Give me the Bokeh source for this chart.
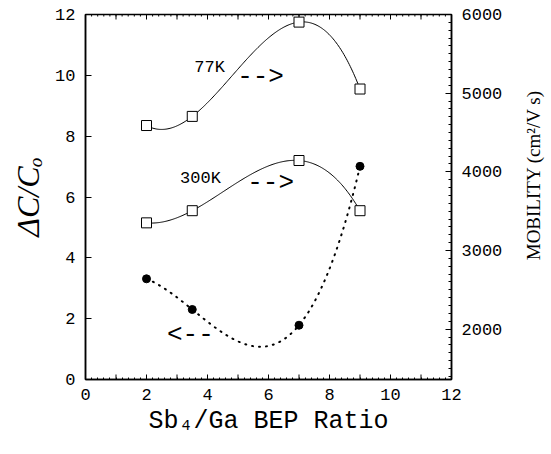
import numpy as np
from bokeh.plotting import figure
from bokeh.layouts import row
from bokeh.models import LinearAxis, Range1d, FixedTicker, Label
from bokeh.embed import file_html
from bokeh.resources import INLINE

# ---- data ----
ratio = [2.0, 3.5, 7.0, 9.0]
dc_77k = [8.35, 8.65, 11.75, 9.55]
dc_300k = [5.15, 5.55, 7.2, 5.55]
mobility = [2640, 2250, 2050, 4070]

x_tick_labels = ["0", "2", "4", "6", "8", "10", "12"]
y_tick_labels = ["0", "2", "4", "6", "8", "10", "12"]
mob_tick_labels = ["2000", "3000", "4000", "5000", "6000"]

MONO = "Liberation Mono"
SERIF = "Liberation Serif"

X0, X1 = 0, 12
Y0, Y1 = 0, 12
H = 450


def smooth(xs, ys, n=200):
    c = np.polyfit(xs, ys, 3)
    xx = np.linspace(min(xs), max(xs), n)
    return xx, np.polyval(c, xx)


FW, FH = 366, 365  # frame size in px
p = figure(width=520, height=H, output_backend="svg", toolbar_location=None,
           x_range=Range1d(X0, X1), y_range=Range1d(Y0, Y1),
           min_border_left=85, min_border_right=69, min_border_top=14, min_border_bottom=71,
           x_axis_type=None, y_axis_type=None)
p.extra_y_ranges = {"mob": Range1d(1360, 6000)}
p.xgrid.visible = False
p.ygrid.visible = False
p.outline_line_color = "black"
p.outline_line_width = 1.5
p.background_fill_color = "white"
p.border_fill_color = "white"

xt_major = [float(t) for t in x_tick_labels]
x_minor = [round(v, 2) for v in np.arange(X0, X1 + 0.001, 0.2)]

# bottom axis
xb = LinearAxis(ticker=FixedTicker(ticks=xt_major, minor_ticks=x_minor),
                axis_label="Sb\u2084/Ga BEP Ratio")
xb.major_tick_in = 5
xb.major_tick_out = 0
xb.minor_tick_in = 2
xb.minor_tick_out = 0
xb.axis_line_color = "black"
xb.axis_line_width = 1.5
xb.major_tick_line_color = "black"
xb.minor_tick_line_color = "black"
xb.major_label_text_font = MONO
xb.major_label_text_font_size = "17px"
xb.major_label_text_color = "black"
xb.major_label_standoff = 9
xb.axis_label_text_font = MONO
xb.axis_label_text_font_size = "25px"
xb.axis_label_text_font_style = "normal"
xb.axis_label_text_color = "black"
xb.axis_label_standoff = 4
p.add_layout(xb, "below")

# extra ticks: odd-integer ticks at bottom, all ticks at top (inward)
ux = Y1 - Y0
tick_long = 5 * ux / FH
tick_short = 2 * ux / FH
odd_int = [float(v) for v in range(X0 + 1, X1, 2)]
p.segment(x0=odd_int, y0=[Y0] * len(odd_int), x1=odd_int,
          y1=[Y0 + tick_long] * len(odd_int), line_color="black", line_width=1)
top_major = [float(v) for v in range(X0, X1 + 1)]
p.segment(x0=top_major, y0=[Y1] * len(top_major), x1=top_major,
          y1=[Y1 - tick_long] * len(top_major), line_color="black", line_width=1)
p.segment(x0=x_minor, y0=[Y1] * len(x_minor), x1=x_minor,
          y1=[Y1 - tick_short] * len(x_minor), line_color="black", line_width=1)

# left axis
yl = LinearAxis(ticker=FixedTicker(ticks=[float(t) for t in y_tick_labels], minor_ticks=[]),
                axis_label="\u0394C/C\u2092")
yl.major_tick_in = 6
yl.major_tick_out = 0
yl.minor_tick_in = 0
yl.minor_tick_out = 0
yl.axis_line_color = "black"
yl.axis_line_width = 1.5
yl.major_tick_line_color = "black"
yl.major_label_text_font = MONO
yl.major_label_text_font_size = "17px"
yl.major_label_text_color = "black"
yl.major_label_standoff = 10
yl.axis_label_text_font = SERIF
yl.axis_label_text_font_size = "32px"
yl.axis_label_text_font_style = "italic"
yl.axis_label_text_color = "black"
yl.axis_label_standoff = 6
p.add_layout(yl, "left")

# right axis (mobility) - ticks and tick labels
yr = LinearAxis(y_range_name="mob",
                ticker=FixedTicker(ticks=[float(t) for t in mob_tick_labels],
                                   minor_ticks=list(range(1400, 6001, 100))))
yr.major_tick_in = 6
yr.major_tick_out = 0
yr.minor_tick_in = 3
yr.minor_tick_out = 0
yr.axis_line_color = "black"
yr.axis_line_width = 1.5
yr.major_tick_line_color = "black"
yr.minor_tick_line_color = "black"
yr.major_label_text_font = MONO
yr.major_label_text_font_size = "17px"
yr.major_label_text_color = "black"
yr.major_label_standoff = 10
p.add_layout(yr, "right")

# curves
x77, y77 = smooth(ratio, dc_77k)
p.line(x77, y77, line_color="black", line_width=1)
x300, y300 = smooth(ratio, dc_300k)
p.line(x300, y300, line_color="black", line_width=1)
xm, ym = smooth(ratio, mobility)
p.line(xm, ym, y_range_name="mob", line_color="black", line_width=2,
       line_dash="1 6", line_cap="round")

# markers
p.scatter(ratio, dc_77k, marker="square", size=10, fill_color="white",
          line_color="black", line_width=1)
p.scatter(ratio, dc_300k, marker="square", size=10, fill_color="white",
          line_color="black", line_width=1)
p.scatter(ratio, mobility, y_range_name="mob", marker="circle", size=8,
          fill_color="black", line_color="black")

# annotations
for txt, x, y, fs in [("77K", 4.07, 10.26, "17px"), ("-->", 5.74, 9.93, "26px"),
                      ("300K", 3.77, 6.61, "17px"), ("-->", 6.07, 6.45, "26px"),
                      ("<--", 3.44, 1.45, "26px")]:
    p.add_layout(Label(x=x, y=y, text=txt, text_font=MONO, text_font_size=fs,
                       text_align="center", text_baseline="middle", text_color="black"))

# narrow strip on the right carrying the mobility axis title (bottom-to-top)
W2 = 25
p2 = figure(width=W2, height=H, output_backend="svg", toolbar_location=None,
            x_range=Range1d(0, W2), y_range=Range1d(0, H), min_border=0,
            x_axis_type=None, y_axis_type=None)
p2.grid.visible = False
p2.outline_line_color = None
p2.background_fill_color = "white"
p2.border_fill_color = "white"
p2.add_layout(Label(x=13, y=H - 198, text="MOBILITY (cm\u00b2/V s)", angle=np.pi / 2,
                    text_font=SERIF, text_font_size="19px", text_color="black",
                    text_align="center", text_baseline="middle"))

open("out.html", "w").write(file_html(row(p, p2), INLINE))
